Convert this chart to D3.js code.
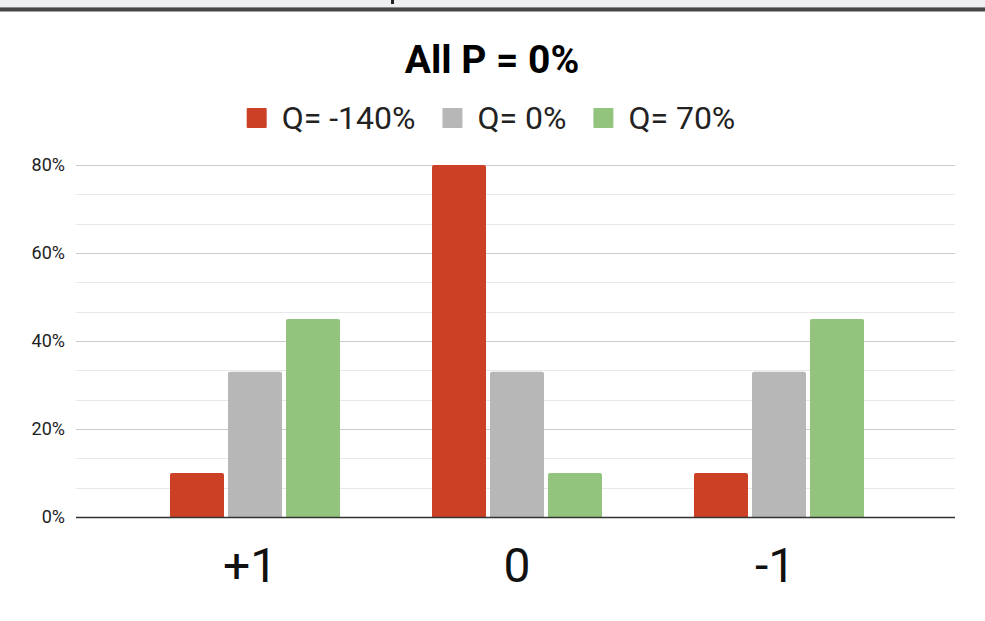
<!DOCTYPE html>
<html>
<head>
<meta charset="utf-8">
<script src="https://cdn.jsdelivr.net/npm/d3@7"></script>
<style>
  body { margin: 0; background: #fff; }
  svg { display: block; font-family: Roboto, "Noto Sans", sans-serif; }
</style>
</head>
<body>
<div id="chart"></div>
<script>
// data
const categories = ["+1", "0", "-1"];
const seriesNames = ["Q= -140%", "Q= 0%", "Q= 70%"];
const seriesColors = ["#cc4125", "#b7b7b7", "#93c47d"];
const valuesQm140 = [10, 80, 10];
const valuesQ0 = [33, 33, 33];
const valuesQ70 = [45, 10, 45];
const seriesValues = [valuesQm140, valuesQ0, valuesQ70];
const yTicks = [0, 20, 40, 60, 80];

const width = 985, height = 621;
const plotLeft = 76, plotRight = 955, plotTop = 165, plotBottom = 517;

const svg = d3.select('#chart').append('svg')
  .attr('width', width)
  .attr('height', height);

// screen top strip
svg.append('rect').attr('x', 0).attr('y', 0).attr('width', width).attr('height', 7).attr('fill', '#eeeff1');
svg.append('rect').attr('x', 0).attr('y', 7).attr('width', width).attr('height', 1).attr('fill', '#8a8a8a');
svg.append('rect').attr('x', 0).attr('y', 8).attr('width', width).attr('height', 3.5).attr('fill', '#474747');
svg.append('rect').attr('x', 391).attr('y', 0).attr('width', 3).attr('height', 4).attr('fill', '#222');

const y = d3.scaleLinear().domain([0, 80]).range([plotBottom, plotTop]);
const x0 = d3.scaleBand().domain(categories).range([124, 910]);
const x1 = d3.scaleBand().domain(seriesNames).range([-85, 85]).paddingInner(4 / 58);

// gridlines: majors every 20, two minor lines between
const minorTicks = d3.range(0, 80.01, 20 / 3).filter(v => Math.abs(v / 20 - Math.round(v / 20)) > 0.01);
svg.append('g').selectAll('line.minor')
  .data(minorTicks).enter().append('line')
  .attr('x1', plotLeft).attr('x2', plotRight)
  .attr('y1', d => Math.round(y(d)) + 0.5).attr('y2', d => Math.round(y(d)) + 0.5)
  .attr('stroke', '#e8e8e8').attr('stroke-width', 1);

svg.append('g').selectAll('line.major')
  .data(yTicks.filter(d => d > 0)).enter().append('line')
  .attr('x1', plotLeft).attr('x2', plotRight)
  .attr('y1', d => Math.round(y(d)) + 0.5).attr('y2', d => Math.round(y(d)) + 0.5)
  .attr('stroke', '#cccccc').attr('stroke-width', 1);

// y labels
svg.append('g').selectAll('text')
  .data(yTicks).enter().append('text')
  .attr('x', 65)
  .attr('y', d => y(d) + 6)
  .attr('text-anchor', 'end')
  .attr('font-size', 18)
  .attr('fill', '#222')
  .text(d => d + '%');

// bars with slightly rounded tops
function barPath(x, yTop, w, yBase, r) {
  return 'M' + x + ',' + yBase +
    'V' + (yTop + r) +
    'Q' + x + ',' + yTop + ' ' + (x + r) + ',' + yTop +
    'H' + (x + w - r) +
    'Q' + (x + w) + ',' + yTop + ' ' + (x + w) + ',' + (yTop + r) +
    'V' + yBase + 'Z';
}

const groups = svg.append('g').selectAll('g.cat')
  .data(categories).enter().append('g')
  .attr('class', 'cat')
  .attr('transform', d => 'translate(' + (x0(d) + x0.bandwidth() / 2) + ',0)');

groups.selectAll('path')
  .data((d, i) => seriesNames.map((s, j) => ({ series: s, value: seriesValues[j][i], color: seriesColors[j] })))
  .enter().append('path')
  .attr('d', d => barPath(x1(d.series), y(d.value), x1.bandwidth(), plotBottom, 2))
  .attr('fill', d => d.color);

// baseline
svg.append('line')
  .attr('x1', plotLeft).attr('x2', plotRight)
  .attr('y1', plotBottom + 0.5).attr('y2', plotBottom + 0.5)
  .attr('stroke', '#333').attr('stroke-width', 1.3);

// x axis labels
svg.append('g').selectAll('text')
  .data(categories).enter().append('text')
  .attr('x', d => x0(d) + x0.bandwidth() / 2 - (d === '+1' ? 5 : d === '-1' ? 4 : 0))
  .attr('y', 582)
  .attr('text-anchor', 'middle')
  .attr('font-size', 48)
  .attr('fill', '#111')
  .text(d => d);

// title
svg.append('text')
  .attr('x', 492)
  .attr('y', 73)
  .attr('text-anchor', 'middle')
  .attr('font-size', 39)
  .attr('font-weight', 'bold')
  .attr('fill', '#000')
  .text('All P = 0%');

// legend
const legend = svg.append('g');
const items = legend.selectAll('g')
  .data(seriesNames).enter().append('g');
items.append('rect')
  .attr('width', 20).attr('height', 20)
  .attr('y', 108)
  .attr('rx', 1)
  .attr('fill', (d, i) => seriesColors[i]);
items.append('text')
  .attr('x', 35)
  .attr('y', 129)
  .attr('font-size', 32)
  .attr('fill', '#222')
  .text(d => d);

let cursor = 0;
const offsets = [];
items.each(function() {
  const w = d3.select(this).select('text').node().getComputedTextLength();
  offsets.push(cursor);
  cursor += 35 + w + 27;
});
const total = cursor - 27;
const startX = 491 - total / 2;
items.attr('transform', (d, i) => 'translate(' + (startX + offsets[i]) + ',0)');
</script>
</body>
</html>
